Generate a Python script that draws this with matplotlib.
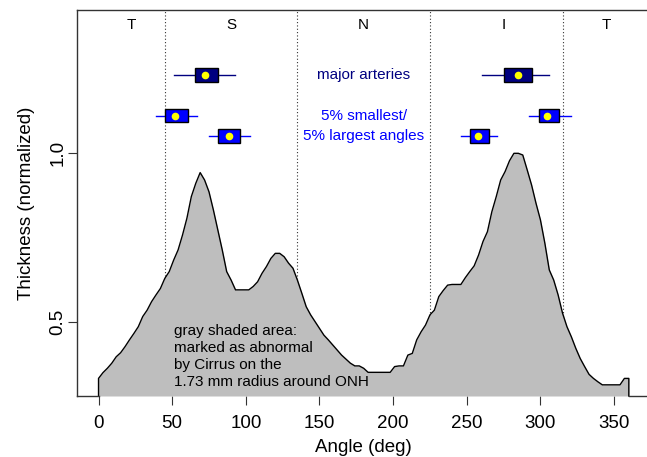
import matplotlib

matplotlib.use("Agg")
import matplotlib.pyplot as plt
import numpy as np

plt.rcParams["font.family"] = ["Liberation Sans", "DejaVu Sans"]

# normalized thickness profile, read every 3 degrees
angle_deg = list(range(0, 361, 3))
thickness = [
    0.334, 0.351, 0.364, 0.379, 0.398, 0.410, 0.428, 0.448, 0.467, 0.487,
    0.517, 0.536, 0.561, 0.581, 0.600, 0.630, 0.650, 0.684, 0.714, 0.758,
    0.808, 0.872, 0.911, 0.943, 0.921, 0.886, 0.832, 0.773, 0.714, 0.650,
    0.625, 0.596, 0.596, 0.596, 0.596, 0.606, 0.620, 0.645, 0.665, 0.689,
    0.704, 0.704, 0.694, 0.675, 0.660, 0.625, 0.586, 0.546, 0.522, 0.502,
    0.482, 0.462, 0.448, 0.433, 0.418, 0.403, 0.391, 0.379, 0.371, 0.371,
    0.364, 0.352, 0.352, 0.352, 0.352, 0.352, 0.352, 0.369, 0.371, 0.371,
    0.403, 0.408, 0.448, 0.472, 0.492, 0.522, 0.536, 0.576, 0.594, 0.610,
    0.612, 0.612, 0.612, 0.632, 0.650, 0.667, 0.699, 0.739, 0.768, 0.827,
    0.872, 0.921, 0.946, 0.978, 1.000, 1.000, 0.995, 0.951, 0.906, 0.852,
    0.803, 0.734, 0.655, 0.625, 0.581, 0.527, 0.487, 0.457, 0.423, 0.393,
    0.369, 0.346, 0.334, 0.324, 0.315, 0.315, 0.315, 0.315, 0.315, 0.334,
    0.334,
]

# sector boundaries and labels
sector_bounds = [45, 135, 225, 315]
sector_labels = ["T", "S", "N", "I", "T"]
sector_label_x = [22, 90, 180, 275, 345]

# horizontal box summaries: (whisker lo, box lo, median, box hi, whisker hi)
box_rows = {"major": 1.232, "small": 1.111, "large": 1.051}
artery_boxes = [(51.5, 65.3, 72.6, 81.4, 92.7), (260.2, 275.4, 284.7, 294.0, 305.6)]
smallest_boxes = [(39.0, 45.4, 52.2, 61.0, 66.6), (292.2, 299.0, 304.6, 312.6, 320.5)]
largest_boxes = [(75.3, 81.4, 88.7, 96.1, 103.0), (246.0, 252.0, 257.7, 265.2, 270.7)]

XLIM = (-14.4, 374.4)
YLIM = (0.282, 1.424)

fig = plt.figure(figsize=(6.47, 4.57), dpi=100)
ax = fig.add_axes([0.1195, 0.1335, 0.8852, 0.8446])
ax.set_xlim(*XLIM)
ax.set_ylim(*YLIM)

for b in sector_bounds:
    ax.axvline(b, color="0.2", lw=0.8, ls=(0, (1, 2)), zorder=1)

x = np.array(angle_deg, dtype=float)
y = np.array(thickness)
ax.fill_between(x, y, YLIM[0], color="#BEBEBE", lw=0, zorder=2)
ax.plot(np.r_[x[0], x, x[-1]], np.r_[YLIM[0], y, YLIM[0]], color="black", lw=1.0,
        zorder=3, clip_on=False)
# frame bottom outside the profile
ax.plot([XLIM[0], x[0]], [YLIM[0], YLIM[0]], color="0.2", lw=1.0, clip_on=False, zorder=3)
ax.plot([x[-1], XLIM[1]], [YLIM[0], YLIM[0]], color="0.2", lw=1.0, clip_on=False, zorder=3)

for lab, lx in zip(sector_labels, sector_label_x):
    ax.text(lx, 1.38, lab, ha="center", va="center", fontsize=11)

h = 0.0395


def draw_box(row_y, stats, fill, line_color):
    wlo, blo, med, bhi, whi = stats
    ax.plot([wlo, whi], [row_y, row_y], color=line_color, lw=1.0, zorder=4)
    ax.add_patch(plt.Rectangle((blo, row_y - h / 2), bhi - blo, h, facecolor=fill,
                               edgecolor="black", lw=1.0, zorder=5))
    ax.plot([med], [row_y], "o", color="yellow", ms=5.5, mec="none", zorder=6)


for s in artery_boxes:
    draw_box(box_rows["major"], s, "#000080", "#000080")
for s in smallest_boxes:
    draw_box(box_rows["small"], s, "#0000FF", "#0000FF")
for s in largest_boxes:
    draw_box(box_rows["large"], s, "#0000FF", "#0000FF")

ax.text(180, box_rows["major"], "major arteries", color="#000080", ha="center",
        va="center", fontsize=11)
ax.text(180, box_rows["small"], "5% smallest/", color="#0000FF", ha="center",
        va="center", fontsize=11)
ax.text(180, box_rows["large"], "5% largest angles", color="#0000FF", ha="center",
        va="center", fontsize=11)

ax.text(51.3, 0.399, "gray shaded area:\nmarked as abnormal\nby Cirrus on the\n"
        "1.73 mm radius around ONH", ha="left", va="center", fontsize=11,
        linespacing=1.26, zorder=4)

ax.spines["right"].set_visible(False)
ax.spines["bottom"].set_visible(False)
for sp in ("left", "top"):
    ax.spines[sp].set_color("0.2")
    ax.spines[sp].set_linewidth(1.0)

ax.set_xticks(range(0, 351, 50))
ax.set_yticks([0.5, 1.0])
ax.set_yticklabels(["0.5", "1.0"], rotation=90, va="center")
ax.tick_params(axis="both", labelsize=13.5, length=6.5, width=0.8, color="0.2")
ax.tick_params(axis="x", pad=7.5)
ax.tick_params(axis="y", pad=1.5)
ax.set_xlabel("Angle (deg)", fontsize=13.5, labelpad=5)
ax.set_ylabel("Thickness (normalized)", fontsize=13.5, labelpad=10)

fig.savefig("out.png", dpi=100)
